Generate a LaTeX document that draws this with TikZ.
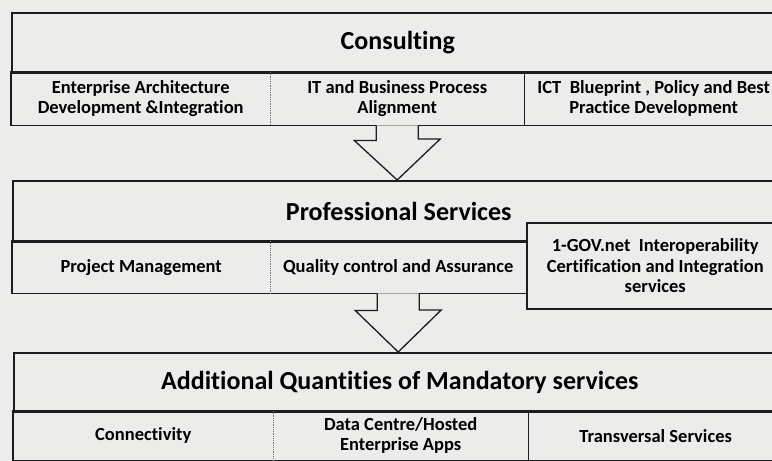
\documentclass[tikz,border=0pt]{standalone}
\usepackage{fontspec}
\setmainfont{Carlito}[Ligatures=NoCommon]
\usetikzlibrary{positioning}
\definecolor{fond}{RGB}{236,236,234}
\definecolor{trait}{RGB}{28,28,28}

\begin{document}
\begin{tikzpicture}[x=1pt, y=-1pt]
	\tikzset{bord/.style={draw=trait, line width=1.5pt},
		titre/.style={bord, anchor=north west, inner sep=0pt, minimum width=772pt, font=\bfseries\fontsize{26}{30}\selectfont},
		case/.style={anchor=north west, inner sep=0pt, align=center, font=\bfseries\fontsize{18.5}{20.5}\selectfont},
		pointille/.style={draw=trait!60, densely dotted, line width=0.8pt},
		fleche/.style={bord, line width=1.3pt, fill=fond, line join=miter}};
	\fill[fond] (0,0) rectangle (772,461);
	\useasboundingbox (0,0) rectangle (772,461);

	% consulting
	\node[titre, minimum height=60pt] (cons) at (11,12) {Consulting};
	\node[case, minimum width=259pt, minimum height=53pt] (ea) at (11,72) {Enterprise Architecture\\Development \&Integration};
	\node[case, minimum width=254pt, minimum height=53pt] (itbp) at (270,72) {IT and Business Process\\Alignment};
	\node[case, minimum width=259pt, minimum height=53pt] (ict) at (524,72) {ICT~ Blueprint , Policy and Best\\Practice Development};
	\draw[bord] (ea.north west) rectangle (ict.south east);
	\draw[pointille] (ea.north east) -- (ea.south east);
	\draw[bord] (itbp.north east) -- (itbp.south east);

	% professional services
	\node[titre, minimum height=61pt] (ps) at (12,180) {Professional Services};
	\node[case, minimum width=258pt, minimum height=52pt] (pm) at (12,241) {Project Management};
	\node[case, minimum width=256pt, minimum height=52pt] (qca) at (270,241) {Quality control and Assurance};
	\node[case, bord, fill=fond, minimum width=257pt, minimum height=86pt] (gov) at (526,222) {1-GOV.net~ Interoperability\\Certification and Integration\\services};
	\draw[bord] (pm.north west) rectangle (qca.south east);
	\draw[pointille] (pm.north east) -- (pm.south east);

	% mandatory services
	\node[titre, minimum height=59pt] (aq) at (13,352) {Additional Quantities of Mandatory services};
	\node[case, minimum width=260pt, minimum height=49pt] (conn) at (13,411) {Connectivity};
	\node[case, minimum width=255pt, minimum height=49pt] (dc) at (273,411) {Data Centre/Hosted\\Enterprise Apps};
	\node[case, minimum width=255pt, minimum height=49pt] (ts) at (528,411) {Transversal Services};
	\draw[bord] (conn.north west) rectangle (ts.south east);
	\draw[pointille] (conn.north east) -- (conn.south east);
	\draw[bord] (dc.north east) -- (dc.south east);

	% fleches
	\draw[fleche] ([xshift=-21pt]itbp.south) -- ++(0,15) -- ++(-22,0) -- (itbp.south |- ps.north) -- ++(43,-41) -- ++(-22,0) -- ([xshift=21pt]itbp.south);
	\draw[fleche] ([xshift=-21pt]qca.south) -- ++(0,17) -- ++(-22,0) -- (qca.south |- aq.north) -- ++(43,-42) -- ++(-22,0) -- ([xshift=21pt]qca.south);
\end{tikzpicture}
\end{document}
